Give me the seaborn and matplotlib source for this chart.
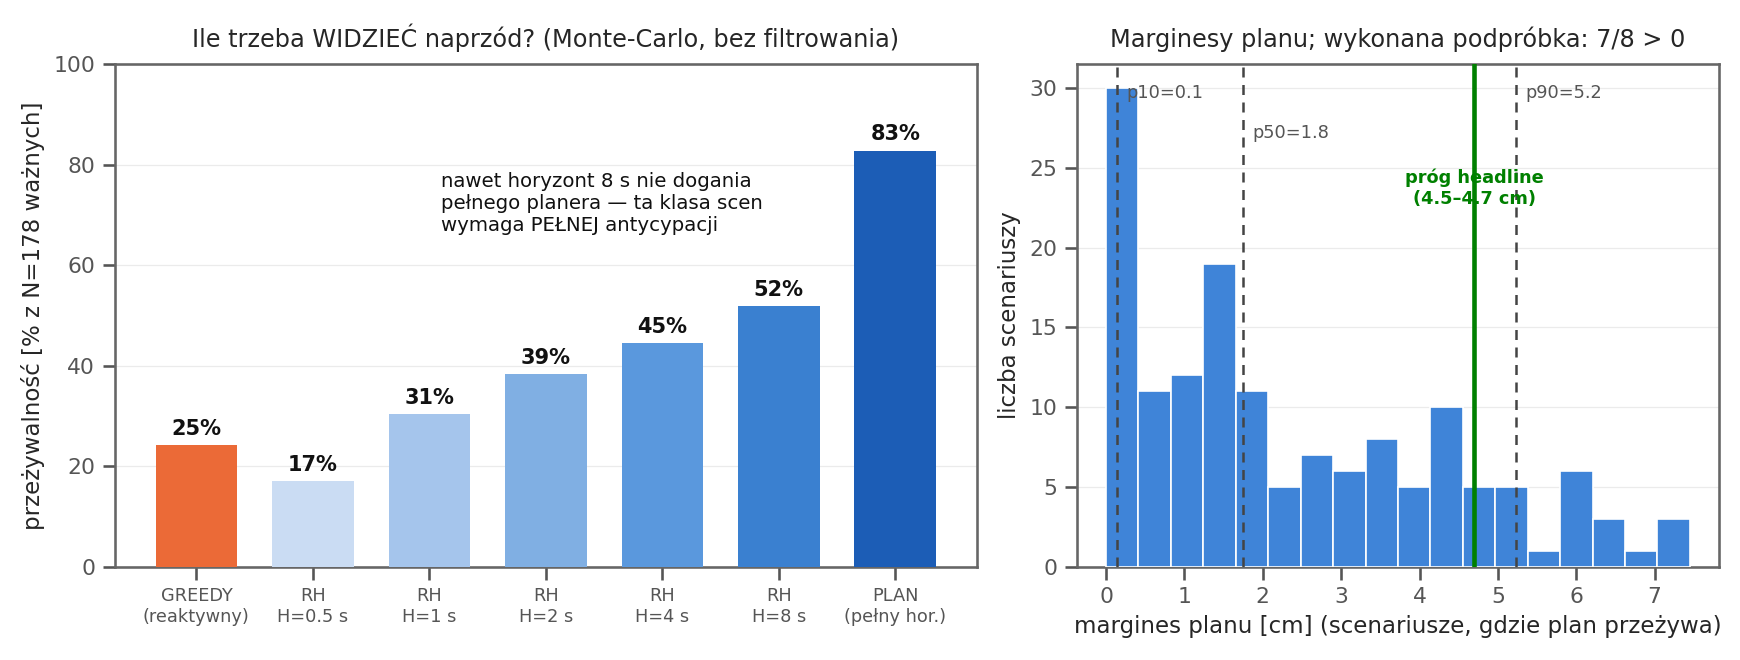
import numpy as np
import pandas as pd
import seaborn as sns
import matplotlib.pyplot as plt

sns.set_theme(style="ticks")
plt.rcParams["font.family"] = ["DejaVu Sans"]
plt.rcParams["axes.edgecolor"] = "#666666"
plt.rcParams["xtick.color"] = "#555555"
plt.rcParams["ytick.color"] = "#555555"

# left panel: survival rate per controller
strategies = ["GREEDY\n(reaktywny)", "RH\nH=0.5 s", "RH\nH=1 s", "RH\nH=2 s",
              "RH\nH=4 s", "RH\nH=8 s", "PLAN\n(pełny hor.)"]
survival = [24.3, 17.0, 30.5, 38.4, 44.6, 51.9, 82.8]
survival_labels = ["25%", "17%", "31%", "39%", "45%", "52%", "83%"]
bar_colors = ["#EB6A37", "#CADCF3", "#A5C5EC", "#80AFE3", "#5A98DD", "#3A80D0", "#1C5DB6"]

# right panel: histogram of plan margins
bin_lo, bin_hi, n_bins = 0.0, 7.45, 18
margin_counts = [30, 11, 12, 19, 11, 5, 7, 6, 8, 5, 10, 5, 5, 1, 6, 3, 1, 3]
pct_names = ["p10", "p50", "p90"]
pct_values = [0.14, 1.75, 5.23]
pct_label_y = [0.96, 0.88, 0.96]
headline = 4.7

fig = plt.figure(figsize=(11.6, 4.4), dpi=150)
gs = fig.add_gridspec(1, 2, width_ratios=[777, 579], wspace=0.133,
                      left=0.066, right=0.988, top=0.903, bottom=0.141)
ax1 = fig.add_subplot(gs[0])
ax2 = fig.add_subplot(gs[1])

# ---- left
df = pd.DataFrame({"strategy": strategies, "survival": survival})
sns.barplot(data=df, x="strategy", y="survival", hue="strategy", palette=bar_colors,
            legend=False, width=0.7, saturation=1, linewidth=0, ax=ax1, zorder=3)
for i, (v, lab) in enumerate(zip(survival, survival_labels)):
    ax1.text(i, v + 1.2, lab, ha="center", va="bottom", fontsize=10,
             fontweight="bold", color="#111111")
ax1.set_ylim(0, 100)
ax1.set_xlim(-0.7, 6.7)
ax1.set_xlabel("")
ax1.set_ylabel("przeżywalność [% z N=178 ważnych]", fontsize=11)
ax1.set_title("Ile trzeba WIDZIEĆ naprzód? (Monte-Carlo, bez filtrowania)", fontsize=11.5, pad=8)
ax1.tick_params(axis="x", labelsize=8.5)
ax1.tick_params(axis="y", labelsize=10.5)
ax1.yaxis.grid(True, color="#ebebeb", lw=0.6, zorder=0)
ax1.text(0.378, 0.785, "nawet horyzont 8 s nie dogania\npełnego planera — ta klasa scen\nwymaga PEŁNEJ antycypacji",
         transform=ax1.transAxes, ha="left", va="top", fontsize=9.5, color="#111111")

# ---- right
edges = np.linspace(bin_lo, bin_hi, n_bins + 1)
centers = (edges[:-1] + edges[1:]) / 2
hist_df = pd.DataFrame({"margin": centers, "count": margin_counts})
sns.histplot(data=hist_df, x="margin", weights="count", bins=list(edges), color="#3F84D8",
             alpha=1, edgecolor="white", linewidth=0.8, ax=ax2, zorder=3)
ax2.yaxis.grid(True, color="#ebebeb", lw=0.6, zorder=0)
ymax = max(margin_counts) * 1.05
ax2.set_ylim(0, ymax)
for name, p, fy in zip(pct_names, pct_values, pct_label_y):
    ax2.axvline(p, color="#444444", ls=(0, (4, 3)), lw=1.2, zorder=4)
    ax2.text(p + 0.12, ymax * fy, f"{name}={p:.1f}", ha="left", va="top",
             fontsize=8.5, color="#555555", zorder=5)
ax2.axvline(headline, color="green", lw=2.2, zorder=4)
ax2.text(headline, 23.7, "próg headline\n(4.5–4.7 cm)", ha="center", va="center",
         fontsize=8.5, fontweight="bold", color="green", zorder=5)
ax2.set_xlabel("margines planu [cm] (scenariusze, gdzie plan przeżywa)", fontsize=11)
ax2.set_ylabel("liczba scenariuszy", fontsize=11)
ax2.set_title("Marginesy planu; wykonana podpróbka: 7/8 > 0", fontsize=11.5, pad=8)
ax2.tick_params(axis="both", labelsize=10.5)
ax2.set_xticks(range(0, 8))

for ax in (ax1, ax2):
    for s in ax.spines.values():
        s.set_visible(True)
        s.set_color("#666666")

fig.savefig("out.png", dpi=150)
